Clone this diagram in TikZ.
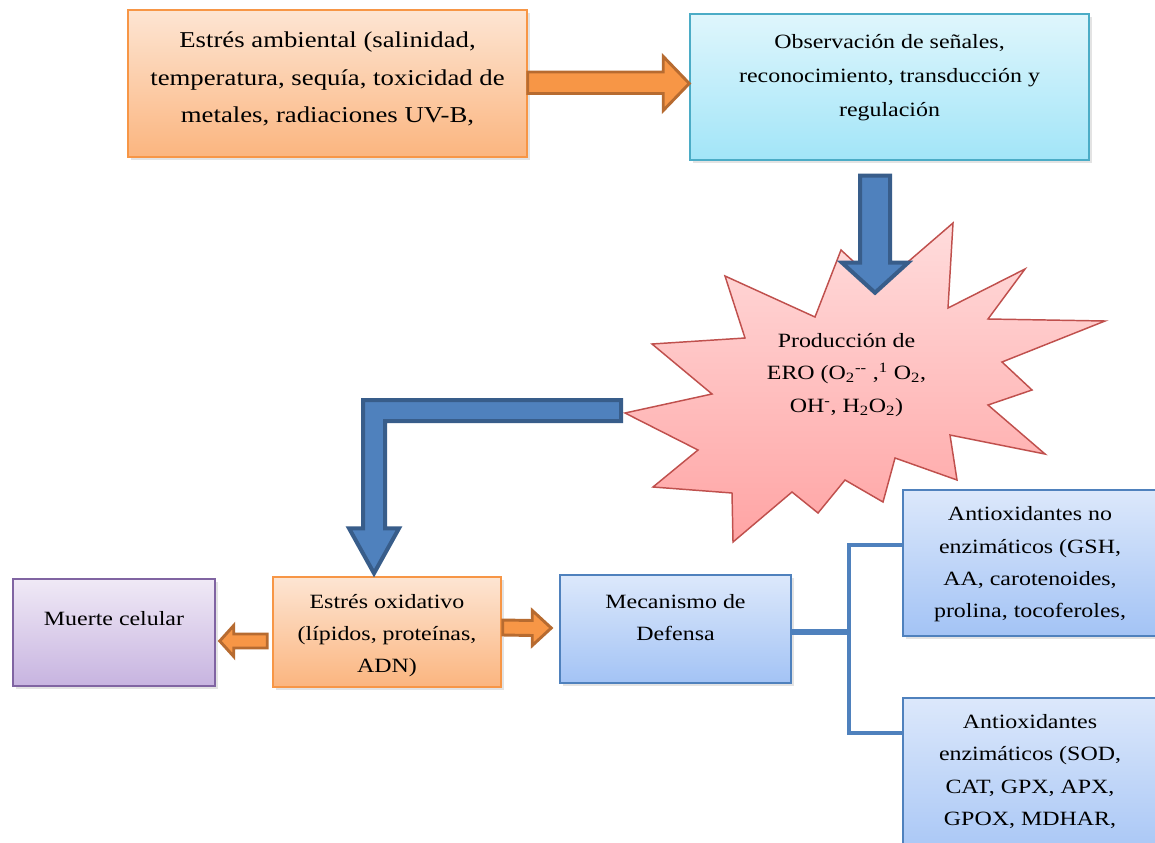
\documentclass[tikz,border=0pt]{standalone}
\usepackage{fontspec}
\setmainfont{Liberation Serif}[FakeStretch=1.18]
\usetikzlibrary{calc,shadows}
\definecolor{otop}{HTML}{FDE5D3}
\definecolor{obot}{HTML}{FBB57F}
\definecolor{oborder}{HTML}{F79646}
\definecolor{ctop}{HTML}{DFF6FC}
\definecolor{cbot}{HTML}{A2E5F8}
\definecolor{cborder}{HTML}{4BACC6}
\definecolor{btop}{HTML}{DCE8FB}
\definecolor{bbot}{HTML}{A3C3F5}
\definecolor{bborder}{HTML}{4F81BD}
\definecolor{ptop}{HTML}{F0E9F6}
\definecolor{pbot}{HTML}{C7B4E0}
\definecolor{pborder}{HTML}{8064A2}
\definecolor{stop}{HTML}{FFDCDC}
\definecolor{sbot}{HTML}{FFA4A4}
\definecolor{sborder}{HTML}{C0504D}
\definecolor{afill}{HTML}{F79646}
\definecolor{adraw}{HTML}{B76B30}
\definecolor{bfill}{HTML}{4F81BD}
\definecolor{bdraw}{HTML}{385D8A}
\begin{document}
\begin{tikzpicture}[x=0.75pt,y=-0.75pt,
  box/.style={rectangle, inner sep=0pt, line width=1.1pt,
    drop shadow={shadow xshift=2pt,shadow yshift=-2pt,opacity=0.22}},
  obox/.style={box, draw=oborder, top color=otop, bottom color=obot},
  cbox/.style={box, draw=cborder, top color=ctop, bottom color=cbot},
  bbox/.style={box, draw=bborder, top color=btop, bottom color=bbot},
  pbox/.style={box, draw=pborder, top color=ptop, bottom color=pbot},
  txt/.style={align=center, inner sep=0pt, font=\fontsize{15.2}{24.2}\selectfont},
  bigtxt/.style={align=center, inner sep=0pt, font=\fontsize{17}{28}\selectfont},
  oarrow/.style={fill=afill, draw=adraw, line width=2.2pt, line join=miter},
  barrow/.style={fill=bfill, draw=bdraw, line width=3pt, line join=miter},
  conn/.style={draw=bborder, line width=3.6pt}]
\clip (0,0) rectangle (1155,842);
\fill[white] (0,0) rectangle (1155,842);

% boxes
\node[obox, minimum width={399*0.75pt}, minimum height={147*0.75pt}] (b1) at (327.5,83.5) {};
\node[cbox, minimum width={399*0.75pt}, minimum height={146*0.75pt}] (b2) at (889.5,87) {};
\node[pbox, minimum width={202*0.75pt}, minimum height={107*0.75pt}] (muerte) at (114,632.5) {};
\node[obox, minimum width={228*0.75pt}, minimum height={110*0.75pt}] (oxid) at (387,632) {};
\node[bbox, minimum width={231*0.75pt}, minimum height={108*0.75pt}] (meca) at (675.5,629) {};
\node[bbox, minimum width={257*0.75pt}, minimum height={146*0.75pt}] (anoenz) at (1031.5,563) {};
\node[bbox, minimum width={257*0.75pt}, minimum height={172*0.75pt}] (aenz) at (1031.5,784) {};

% texts
\node[bigtxt] (t1) at (327.5,79) {Estrés ambiental (salinidad,\\temperatura, sequía, toxicidad de\\metales, radiaciones UV-B,};
\node[txt, font=\fontsize{15.2}{25.5}\selectfont] (t2) at (889.5,77.5) {Observación de señales,\\reconocimiento, transducción y\\regulación};
\node[txt] (tm) at (114,619) {Muerte celular};
\node[txt] (to) at (387,635.5) {Estrés oxidativo\\(lípidos, proteínas,\\ADN)};
\node[txt] (tmec) at (675.5,617.5) {Mecanismo de\\Defensa};
\node[txt] (tan) at (1030,564.5) {Antioxidantes no\\enzimáticos (GSH,\\AA, carotenoides,\\prolina, tocoferoles,};
\node[txt] (tae) at (1030,771.5) {Antioxidantes\\enzimáticos (SOD,\\CAT, GPX, APX,\\GPOX, MDHAR,};

% starburst
\coordinate (sl) at (625,413);
\fill[top color=stop, bottom color=sbot] (725,276) -- (815,317) -- (841,250) -- (880,286) -- (953,223) -- (948,308) -- (1025,269) -- (988,319) -- (1105,321) -- (1002,362) -- (1032,390) -- (988,405) -- (1045,454) -- (950,435) -- (957,480) -- (895,458) -- (883,502) -- (845,480) -- (818,513) -- (792,492) -- (733,542) -- (732,493) -- (653,487) -- (698,450) -- (sl) -- (712,394) -- (652,344) -- (745,338) -- cycle;
\draw[sborder, line width=1.1pt, line join=miter] (725,276) -- (815,317) -- (841,250) -- (880,286) -- (953,223) -- (948,308) -- (1025,269) -- (988,319) -- (1105,321) -- (1002,362) -- (1032,390) -- (988,405) -- (1045,454) -- (950,435) -- (957,480) -- (895,458) -- (883,502) -- (845,480) -- (818,513) -- (792,492) -- (733,542) -- (732,493) -- (653,487) -- (698,450) -- (sl) -- (712,394) -- (652,344) -- (745,338) -- cycle;
\node[txt] (ero) at (846.5,375) {Producción de\\ERO (O\textsubscript{2}\textsuperscript{-{}-} ,\textsuperscript{1} O\textsubscript{2},\\OH\textsuperscript{-}, H\textsubscript{2}O\textsubscript{2})};

% top orange arrow b1 -> b2
\coordinate (a1s) at (b1.east);
\coordinate (a1t) at ($(b2.west |- b1.east)$);
\draw[oarrow] ($(a1s)+(0,-11.5)$) -- ($(a1t)+(-26,-11.5)$) -- ($(a1t)+(-26,-27)$) -- (a1t) -- ($(a1t)+(-26,27)$) -- ($(a1t)+(-26,10)$) -- ($(a1s)+(0,10)$) -- cycle;

% blue down arrow b2 -> starburst
\coordinate (a2s) at ($(b2.south)+(-14.5,15)$);
\coordinate (a2t) at ($(b2.south)+(-14.5,132)$);
\draw[barrow] ($(a2s)+(-15,0)$) -- ($(a2t)+(-15,-30)$) -- ($(a2t)+(-33,-30)$) -- (a2t) -- ($(a2t)+(33,-30)$) -- ($(a2t)+(15,-30)$) -- ($(a2s)+(15,0)$) -- cycle;

% blue L arrow starburst -> oxid
\coordinate (a3s) at ($(sl)+(-4,-2.5)$);
\coordinate (a3t) at ($(oxid.north)+(-13,-3)$);
\draw[barrow] ($(a3s)+(0,-10.5)$) -- ($(a3t |- a3s)+(-11,-10.5)$) -- ($(a3t)+(-11,-45)$) -- ($(a3t)+(-25,-45)$) -- (a3t) -- ($(a3t)+(25,-45)$) -- ($(a3t)+(11,-45)$) -- ($(a3t |- a3s)+(11,10.5)$) -- ($(a3s)+(0,10.5)$) -- cycle;

% small orange arrows
\coordinate (a4s) at ($(oxid.west)+(-5,9)$);
\coordinate (a4t) at ($(muerte.east)+(4,8.5)$);
\draw[oarrow] ($(a4s)+(0,-7)$) -- ($(a4t)+(14,-7)$) -- ($(a4t)+(14,-15.5)$) -- (a4t) -- ($(a4t)+(14,15.5)$) -- ($(a4t)+(14,7)$) -- ($(a4s)+(0,7)$) -- cycle;
\coordinate (a5s) at ($(oxid.east)+(1,-4.5)$);
\coordinate (a5t) at ($(meca.west)+(-8,-1)$);
\draw[oarrow] ($(a5s)+(0,-7.5)$) -- ($(a5t)+(-19,-7.5)$) -- ($(a5t)+(-19,-17.5)$) -- (a5t) -- ($(a5t)+(-19,17.5)$) -- ($(a5t)+(-19,7.5)$) -- ($(a5s)+(0,7.5)$) -- cycle;

% connectors from meca to antioxidant boxes
\coordinate (j) at ($(meca.east)+(58,3)$);
\coordinate (jt) at (849,545);
\coordinate (jb) at (849,733);
\draw[conn, line width=5.2pt] ($(meca.east)+(0,3)$) -- (j);
\draw[conn, line join=miter] (jt -| anoenz.west) -- (jt) -- (jb) -- (jb -| aenz.west);
\end{tikzpicture}
\end{document}
